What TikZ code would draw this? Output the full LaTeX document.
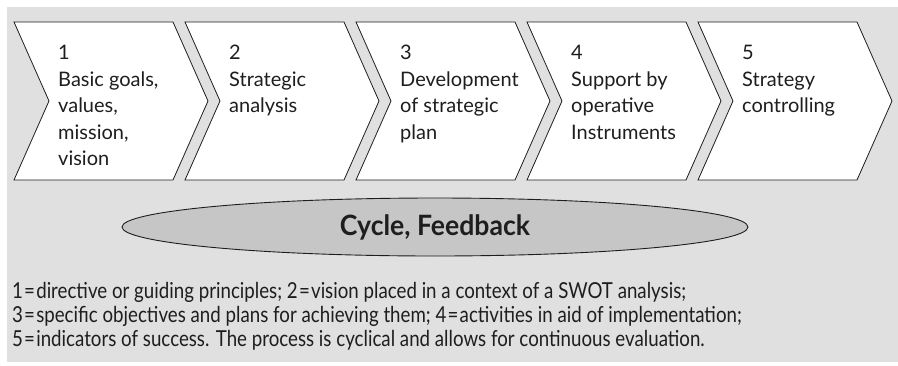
\documentclass[tikz,border=0pt]{standalone}
\usepackage{fontspec}
\setmainfont{Lato}
\newfontfamily\narrowfont[FakeStretch=0.85]{Lato}
\newfontfamily\headfont[FakeStretch=0.95]{Lato}
\usetikzlibrary{shapes.geometric,positioning}

\definecolor{panelgray}{HTML}{E0E0E0}
\definecolor{lensgray}{HTML}{C5C6C5}
\definecolor{inkgray}{HTML}{1E1E1E}

\newcommand{\eqsign}{\kern1.2pt=\kern1.2pt}

\tikzset{ % looks of the process chain
  stepbox/.style={draw=inkgray, line width=0.8pt, fill=white},
  steptext/.style={anchor=north west, align=left, inner sep=0pt,
    text=inkgray, font=\fontsize{20}{26.5}\selectfont},
  lens/.style={ellipse, draw=inkgray, line width=0.9pt, fill=lensgray,
    inner sep=0pt, minimum width=626pt, minimum height=58pt,
    text=inkgray, font=\headfont\bfseries\fontsize{28}{30}\selectfont},
  legend/.style={anchor=north west, align=left, inner sep=0pt,
    text=inkgray, font=\narrowfont\fontsize{22}{24}\selectfont}
}

\begin{document}
\begin{tikzpicture}[x=1pt,y=-1pt]
\useasboundingbox (0,0) rectangle (898,365);
\fill[panelgray] (7,7) rectangle (898,362);

% the five steps
\foreach \i/\name/\txt in {0/goals/{1\\Basic goals,\\values,\\mission,\\vision},
                           1/analysis/{2\\Strategic\\analysis},
                           2/plan/{3\\Development\\of strategic\\plan},
                           3/support/{4\\Support by\\operative\\Instruments},
                           4/control/{5\\Strategy\\controlling}}
{
  \draw[stepbox] (14+171*\i,22) -- ++(159,0) -- ++(35,79) -- ++(-35,79)
                 -- ++(-159,0) -- ++(35,-79) -- cycle;
  \node[steptext] (\name) at (58+171*\i,45) {\txt};
}

\node[lens] (cycle) at (435,227) {Cycle, Feedback};

\node[legend] (notes) at (12,282) {1\eqsign directive or guiding principles; 2\eqsign vision placed in a context of a SWOT analysis;\\
3\eqsign specific objectives and plans for achieving them; 4\eqsign activities in aid of implementation;\\
5\eqsign indicators of success. The process is cyclical and allows for continuous evaluation.};
\end{tikzpicture}
\end{document}
